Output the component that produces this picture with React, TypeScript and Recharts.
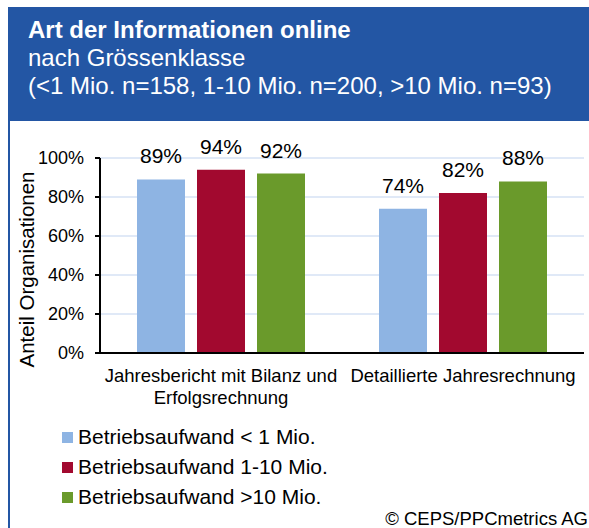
import React from "react";
import {Bar, BarChart, CartesianGrid, LabelList, XAxis, YAxis} from "recharts";

// Anteil Organisationen je Grössenklasse (in %)
const categories = ["Jahresbericht mit Bilanz und Erfolgsrechnung", "Detaillierte Jahresrechnung"];
const categoryLines = [["Jahresbericht mit Bilanz und", "Erfolgsrechnung"], ["Detaillierte Jahresrechnung"]];
const smallValues = [89, 74];
const mediumValues = [94, 82];
const largeValues = [92, 88];
const yTicks = [0, 20, 40, 60, 80, 100];

const seriesNames = ["Betriebsaufwand < 1 Mio.", "Betriebsaufwand 1-10 Mio.", "Betriebsaufwand >10 Mio."];
const seriesColors = ["#8EB4E3", "#A2092F", "#6A9A2B"];

const data = categories.map((c, i) => ({
    name: c,
    small: smallValues[i],
    medium: mediumValues[i],
    large: largeValues[i],
}));

const FONT = '"Liberation Sans", Arial, sans-serif';
const BLUE = "#2356A4";

function CategoryTick(props: any) {
    const {x, y, index} = props;
    const lines = categoryLines[index] || [];
    return (
        <text x={x} y={y} textAnchor="middle" fontSize={18.5} fill="#000" fontFamily={FONT}>
            {lines.map((l, i) => (
                <tspan key={i} x={x} dy={i === 0 ? 29 : 22}>{l}</tspan>
            ))}
        </text>
    );
}

function YLabel(props: any) {
    const {viewBox} = props;
    const cy = viewBox.y + viewBox.height / 2 + 14;
    return (
        <text x={34} y={cy} transform={`rotate(-90, 34, ${cy})`} textAnchor="middle"
              fontSize={20.5} fill="#000" fontFamily={FONT}>
            Anteil Organisationen
        </text>
    );
}

export default function App() {
    const keys = ["small", "medium", "large"];
    return (
        <div style={{position: "absolute", left: 0, top: 0, width: 589, height: 528, background: "#fff", fontFamily: FONT, overflow: "hidden"}}>
            {/* Kopfzeile */}
            <div style={{position: "absolute", left: 8, top: 7, width: 581, height: 114, background: BLUE, color: "#fff", boxSizing: "border-box", paddingLeft: 20, paddingTop: 9, fontSize: 24, lineHeight: "28px"}}>
                <div style={{fontWeight: "bold"}}>Art der Informationen online</div>
                <div>nach Grössenklasse</div>
                <div>(&lt;1 Mio. n=158, 1-10 Mio. n=200, &gt;10 Mio. n=93)</div>
            </div>
            <div style={{position: "absolute", left: 8, top: 121, width: 2, height: 407, background: BLUE}}/>

            <div style={{position: "absolute", left: 0, top: 0}}>
                <BarChart width={589} height={528} data={data} barSize={48} barGap={12}
                          margin={{top: 158, right: 5, bottom: 115, left: 0}}>
                    <CartesianGrid vertical={false} stroke="#D6E2F5" strokeWidth={1.5}/>
                    <XAxis dataKey="name" height={60} tickLine={false} tickSize={0} tickMargin={0}
                           axisLine={{stroke: "#000", strokeWidth: 2}} tick={<CategoryTick/>} interval={0}/>
                    <YAxis width={100} domain={[0, 100]} ticks={yTicks} tickFormatter={(v) => v + "%"}
                           tickSize={5} tickMargin={11} axisLine={{stroke: "#000", strokeWidth: 2}}
                           tickLine={{stroke: "#000", strokeWidth: 2}}
                           tick={{fontSize: 18, fill: "#000", fontFamily: FONT}}
                           label={<YLabel/>}/>
                    {keys.map((k, i) => (
                        <Bar key={k} dataKey={k} name={seriesNames[i]} fill={seriesColors[i]} isAnimationActive={false}>
                            <LabelList dataKey={k} position="top" offset={16} formatter={(v: any) => v + "%"}
                                       style={{fontSize: 21, fill: "#000", fontFamily: FONT}}/>
                        </Bar>
                    ))}
                </BarChart>
            </div>

            {/* Legende */}
            {seriesNames.map((n, i) => (
                <div key={n} style={{position: "absolute", left: 62, top: 424 + i * 30, height: 26, display: "flex", alignItems: "center", fontSize: 21, color: "#000"}}>
                    <span style={{display: "inline-block", width: 11, height: 11, background: seriesColors[i], marginRight: 5}}/>
                    {n}
                </div>
            ))}

            <div style={{position: "absolute", right: 1, top: 508, fontSize: 18.5, lineHeight: "22px", color: "#000"}}>
                © CEPS/PPCmetrics AG
            </div>
        </div>
    );
}
